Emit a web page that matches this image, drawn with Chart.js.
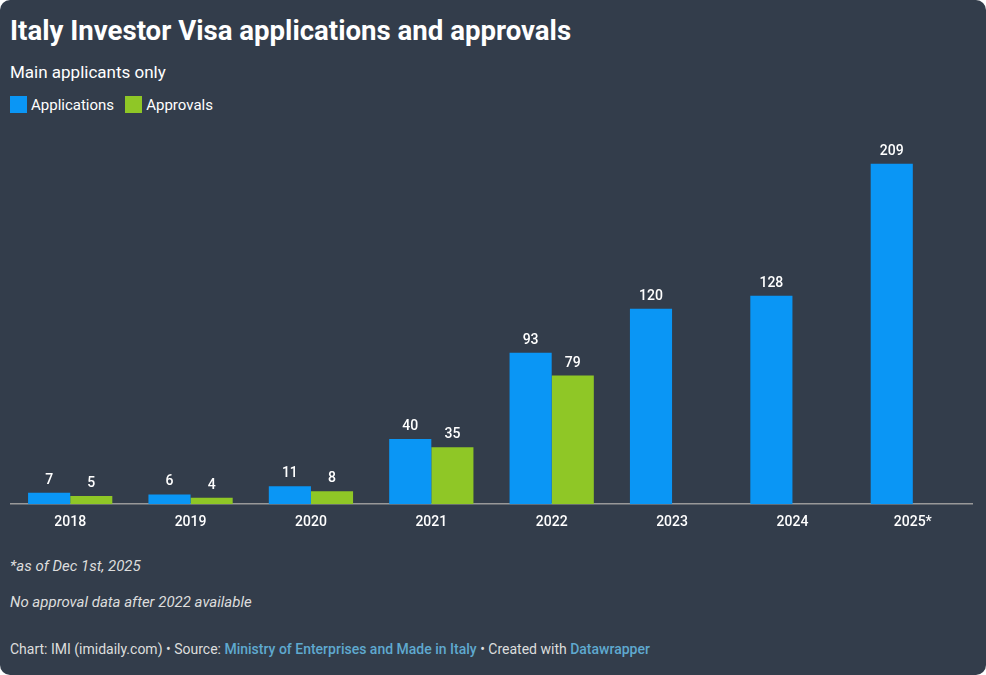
<!DOCTYPE html>
<html>
<head>
<meta charset="utf-8">
<script src="https://cdn.jsdelivr.net/npm/chart.js@4"></script>
<style>
body{margin:0;background:#fff;font-family:Roboto,sans-serif;}
#box{position:absolute;left:0;top:0;width:986px;height:675px;background:#333d4b;border-radius:10px;color:#fff;}
h1{position:absolute;left:10px;top:14px;margin:0;font-size:27.6px;font-weight:700;}
.sub{position:absolute;left:10px;top:62px;font-size:17px;}
.leg{position:absolute;left:10px;top:96px;font-size:15px;}
.leg span{display:inline-block;width:17px;height:17px;vertical-align:-3px;margin-right:4px;}
.note{position:absolute;left:10px;font-size:15px;font-style:italic;color:#ddd;}
.foot{position:absolute;left:10px;top:641px;font-size:14px;color:#ddd;}
.foot b{color:#5fa9cf;font-weight:500;}
#wrap{position:absolute;left:10px;top:128px;width:963px;height:405px;}
</style>
</head>
<body>
<div id="box">
<h1>Italy Investor Visa applications and approvals</h1>
<div class="sub">Main applicants only</div>
<div class="leg"><span style="background:#0a96f5"></span>Applications &nbsp;&nbsp;<span style="background:#8fc726"></span>Approvals</div>
<div id="wrap"><canvas id="myChart"></canvas></div>
<div class="note" style="top:557px">*as of Dec 1st, 2025</div>
<div class="note" style="top:593px">No approval data after 2022 available</div>
<div class="foot">Chart: IMI (imidaily.com) • Source: <b>Ministry of Enterprises and Made in Italy</b> • Created with <b>Datawrapper</b></div>
</div>
<script>
var years=['2018','2019','2020','2021','2022','2023','2024','2025*'];
var applications=[7,6,11,40,93,120,128,209];
var approvals=[5,4,8,35,79,null,null,null];

var labelPlugin={
  id:'vals',
  afterDatasetsDraw:function(chart){
    var ctx=chart.ctx;
    ctx.save();
    ctx.fillStyle='#fff';
    ctx.font='500 14px Roboto';
    ctx.textAlign='center';
    chart.data.datasets.forEach(function(ds,i){
      chart.getDatasetMeta(i).data.forEach(function(bar,j){
        if(ds.data[j]==null)return;
        ctx.fillText(ds.data[j],bar.x,bar.y-9);
      });
    });
    ctx.restore();
  }
};

new Chart("myChart",{
  type:"bar",
  data:{
    labels:years,
    datasets:[{
      label:'Applications',
      data:applications,
      backgroundColor:'#0a96f5',
      categoryPercentage:0.7,
      barPercentage:1
    },{
      label:'Approvals',
      data:approvals,
      backgroundColor:'#8fc726',
      categoryPercentage:0.7,
      barPercentage:1
    }]
  },
  options:{
    responsive:true,
    maintainAspectRatio:false,
    animation:false,
    layout:{padding:0},
    plugins:{legend:{display:false},tooltip:{enabled:false}},
    scales:{
      x:{
        grid:{display:false},
        border:{color:'#999',width:1.5},
        ticks:{color:'#fff',font:{size:14,family:'Roboto',weight:'500'},padding:2}
      },
      y:{display:false,min:0,max:231}
    }
  },
  plugins:[labelPlugin]
});
</script>
</body>
</html>
